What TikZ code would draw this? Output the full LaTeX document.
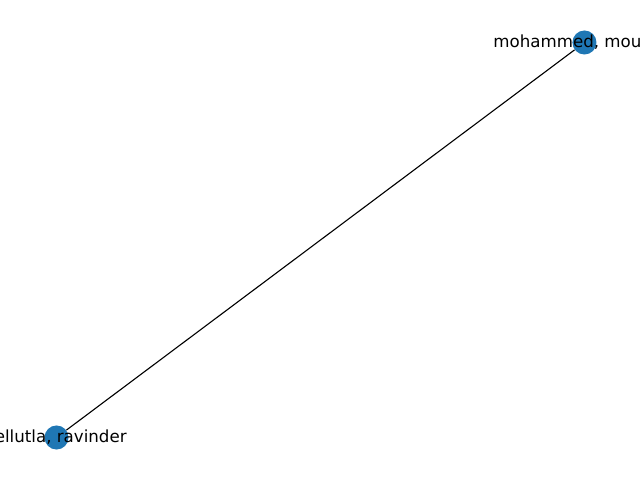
\documentclass[tikz,border=0pt]{standalone}
\usepackage{fontspec}
\setmainfont{DejaVu Sans}
\definecolor{nxblue}{HTML}{1F77B4}
\begin{document}
\begin{tikzpicture}[x=1pt,y=1pt,
  vertex/.style={circle,fill=nxblue,draw=none,minimum size=17.3pt,inner sep=0pt},
  lbl/.style={inner sep=0pt,font=\fontsize{12pt}{14pt}\selectfont},
  edge/.style={draw=black,line width=0.8pt}]
\useasboundingbox (0,0) rectangle (460.8,345.6);
\clip (0,0) rectangle (460.8,345.6);
\node[vertex] (a) at (420.8,315.0) {};
\node[vertex] (b) at (40.7,30.6) {};
\draw[edge] (a) -- (b);
\node[lbl,anchor=west] (la) at (355.0,315.0) {mohammed, mou};
\node[lbl,anchor=east] (lb) at (91.4,30.6) {ellutla, ravinder};
\end{tikzpicture}
\end{document}
